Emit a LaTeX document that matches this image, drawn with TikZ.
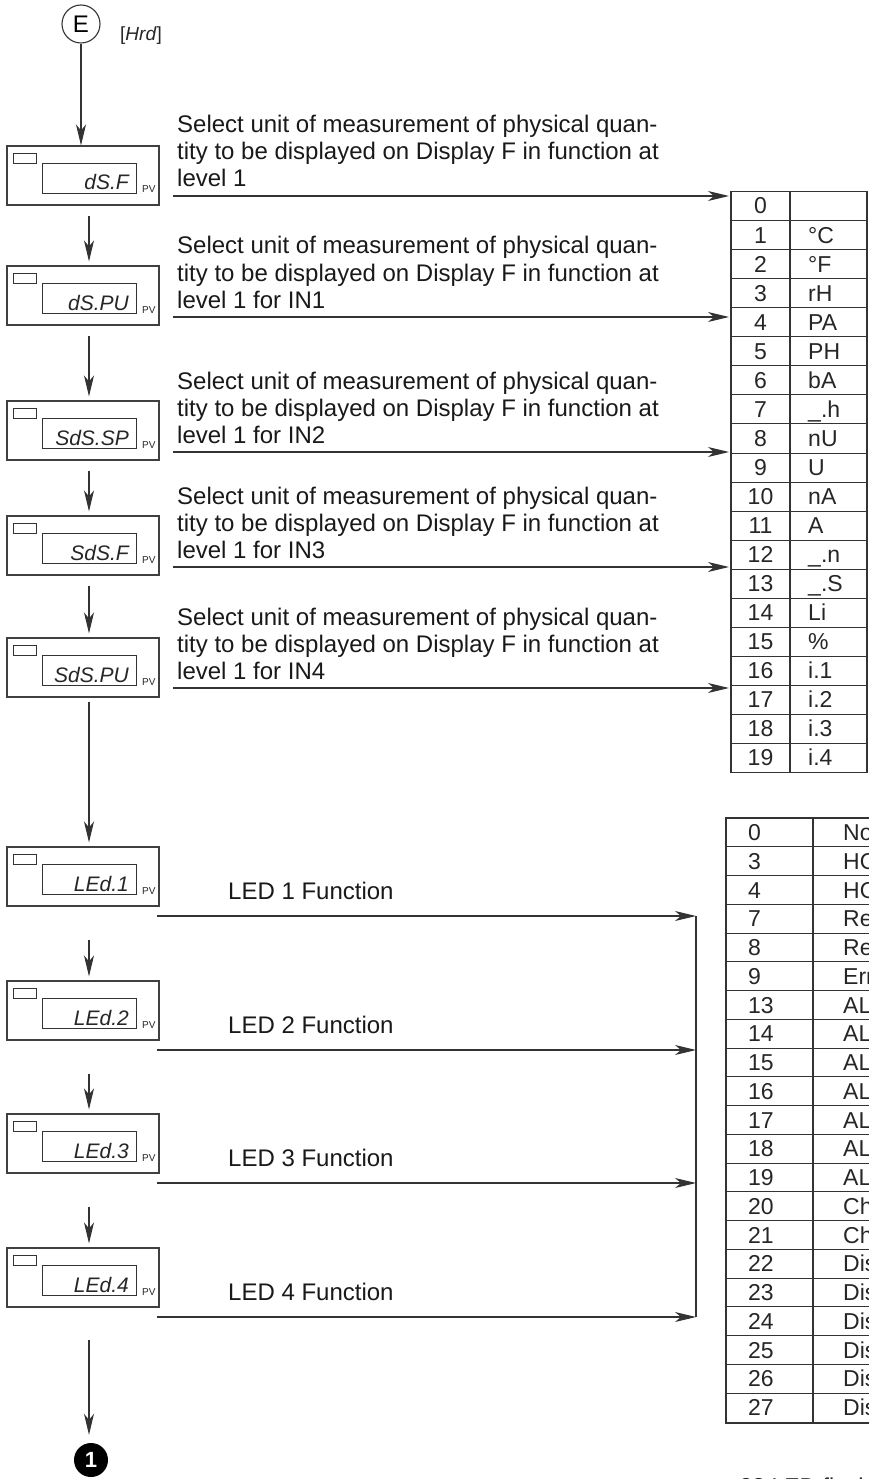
\documentclass[tikz,border=0pt]{standalone}
\usepackage{fontspec}
\setmainfont{Liberation Sans}
\usetikzlibrary{arrows.meta}
\newcommand\dbox[3]{%
  \node[outerbox] (#1) at (83,#2+29.5) {};
  \draw[thinln] (13,#2+7) rectangle (36,#2+17);
  \draw[thinln] (42,#2+17) rectangle (136,#2+47);
  \node[seg] (#1t) at (129,#2+44) {#3};
  \node[pv] (#1p) at (142,#2+47) {PV};
}
\newcommand\desc[3]{%
  \node[dtext] (#1a) at (177,#2-63) {Select unit of measurement of physical quan-};
  \node[dtext] (#1b) at (177,#2-36) {tity to be displayed on Display F in function at};
  \node[dtext] (#1c) at (177,#2-9) {#3};
}
\begin{document}
\begin{tikzpicture}[x=1pt,y=-1pt,
  ln/.style={draw=black!80, line width=1.1pt},
  thinln/.style={draw=black!80, line width=0.9pt},
  arr/.style={ln, -{Stealth[length=21pt,width=10pt,inset=6pt]}},
  outerbox/.style={draw=black!75, line width=1.1pt, minimum width=152pt, minimum height=59pt, inner sep=0pt},
  dtext/.style={anchor=base west, inner sep=0pt, font=\fontsize{24}{27}\selectfont, text=black!90},
  seg/.style={anchor=base east, inner sep=0pt, font=\fontsize{21}{21}\selectfont\itshape, text=black!85},
  pv/.style={anchor=base west, inner sep=0pt, font=\fontsize{10}{10}\selectfont, text=black!85},
  cell/.style={anchor=base, inner sep=0pt, font=\fontsize{23}{23}\selectfont, text=black!85},
  cellw/.style={anchor=base west, inner sep=0pt, font=\fontsize{23}{23}\selectfont, text=black!85},
]
\useasboundingbox (0,0) rectangle (869,1479);

% start
\node[circle, draw=black!80, line width=1.1pt, minimum size=38pt, inner sep=0pt,
      font=\fontsize{24}{24}\selectfont] (E) at (81,24) {E};
\node[anchor=base west, inner sep=0pt, font=\fontsize{19}{19}\selectfont, text=black!85] (hrd) at (120,41) {[\textit{Hrd}]};

% display boxes
\dbox{b1}{146}{dS.F}
\dbox{b2}{266}{dS.PU}
\dbox{b3}{401}{SdS.SP}
\dbox{b4}{516}{SdS.F}
\dbox{b5}{638}{SdS.PU}
\dbox{L1}{847}{LEd.1}
\dbox{L2}{981}{LEd.2}
\dbox{L3}{1114}{LEd.3}
\dbox{L4}{1248}{LEd.4}

% vertical arrows
\draw[arr] (E.south) -- (E.south |- b1.north);
\foreach \p/\q in {b1/b2,b2/b3,b3/b4,b4/b5}
  \draw[arr] ([xshift=6pt,yshift=-10pt]\p.south) -- ([xshift=6pt,yshift=4pt]\q.north);
\draw[arr] ([xshift=6pt,yshift=-4pt]b5.south) -- ([xshift=6pt,yshift=4pt]L1.north);
\foreach \p/\q in {L1/L2,L2/L3,L3/L4}
  \draw[arr] ([xshift=6pt,yshift=-33pt]\p.south) -- ([xshift=6pt,yshift=4pt]\q.north);
\node[circle, fill=black, minimum size=34pt, inner sep=0pt, text=white,
      font=\fontsize{22}{22}\selectfont\bfseries] (one) at (91,1460) {1};
\coordinate (a9) at (89,1340);
\draw[arr, shorten >=8pt] (a9) -- (a9 |- one.north);

% descriptions
\desc{d1}{196}{level 1}
\desc{d2}{317}{level 1 for IN1}
\desc{d3}{452}{level 1 for IN2}
\desc{d4}{567}{level 1 for IN3}
\desc{d5}{688}{level 1 for IN4}

% table 1
\coordinate (T1) at (731,191.5);
\draw[ln] (T1) rectangle (867,772.5);
\draw[ln] (790,191.5) -- (790,772.5);
\foreach \i in {1,...,19}
  \draw[thinln] (731,191.5+\i*29.05) -- (867,191.5+\i*29.05);
\node[cell] (ta0) at (760.5,191.5+22.5) {0};
\foreach \n/\u [count=\k from 1] in {1/°C,2/°F,3/rH,4/PA,5/PH,6/bA,7/\_.h,8/nU,9/U,10/nA,11/A,12/\_.n,13/\_.S,14/Li,15/\%,16/i.1,17/i.2,18/i.3,19/i.4}{
  \node[cell] (ta\k) at (760.5,191.5+\k*29.05+22.5) {\n};
  \node[cellw] (tb\k) at (808,191.5+\k*29.05+22.5) {\u};
}
\foreach \y [count=\k] in {196,317,452,567,688}{
  \coordinate (s\k) at (173,\y);
  \draw[arr] (s\k) -- ([xshift=-2pt]s\k -| T1);
}

% LED arrows
\coordinate (V1) at (696,916);
\coordinate (V4) at (696,1317);
\draw[ln] (V1) -- (V4);
\foreach \y/\t [count=\k] in {916/LED 1 Function,1050/LED 2 Function,1183/LED 3 Function,1317/LED 4 Function}{
  \coordinate (l\k) at (157,\y);
  \draw[arr] (l\k) -- (l\k -| V1);
  \node[dtext] (lt\k) at (228,\y-17) {\t};
}

% table 2
\draw[ln] (880,818) -- (726,818) -- (726,1423) -- (880,1423);
\draw[ln] (813,818) -- (813,1423);
\foreach \i in {1,...,20}
  \draw[thinln] (726,818+\i*28.76) -- (880,818+\i*28.76);
\foreach \n/\u [count=\k from 0] in {0/No,3/HO,4/HO,7/Re,8/Re,9/Err,13/AL,14/AL,15/AL,16/AL,17/AL,18/AL,19/AL,20/Ch,21/Ch,22/Dis,23/Dis,24/Dis,25/Dis,26/Dis,27/Dis}{
  \node[cellw] (tc\k) at (748,818+\k*28.76+22.5) {\n};
  \node[cellw] (td\k) at (843,818+\k*28.76+22.5) {\u};
}
\node[cellw] (note) at (733,1494) {:28 LED flash};
\end{tikzpicture}
\end{document}
